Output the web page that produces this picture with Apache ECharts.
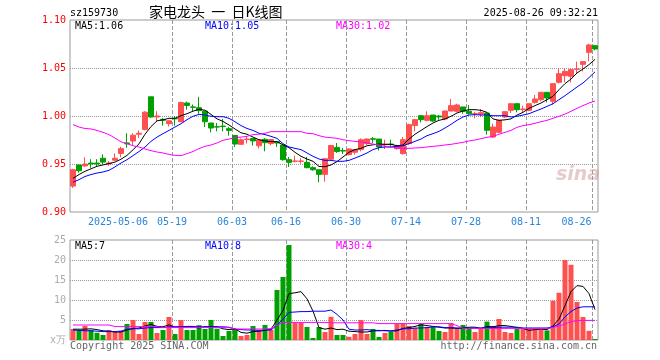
<!DOCTYPE html>
<html><head><meta charset="utf-8">
<script src="https://cdn.jsdelivr.net/npm/echarts@6/dist/echarts.min.js"></script>
<style>html,body{margin:0;padding:0;background:#fff}#c{width:660px;height:360px}</style>
</head><body><div id="c"></div>
<script>
var dates = ['2025-04-21','2025-04-22','2025-04-23','2025-04-24','2025-04-25','2025-04-28','2025-04-29','2025-04-30',
'2025-05-06','2025-05-07','2025-05-08','2025-05-09','2025-05-12','2025-05-13','2025-05-14','2025-05-15','2025-05-16',
'2025-05-19','2025-05-20','2025-05-21','2025-05-22','2025-05-23','2025-05-26','2025-05-27','2025-05-28','2025-05-29','2025-05-30',
'2025-06-03','2025-06-04','2025-06-05','2025-06-06','2025-06-09','2025-06-10','2025-06-11','2025-06-12','2025-06-13',
'2025-06-16','2025-06-17','2025-06-18','2025-06-19','2025-06-20','2025-06-23','2025-06-24','2025-06-25','2025-06-26','2025-06-27',
'2025-06-30','2025-07-01','2025-07-02','2025-07-03','2025-07-04','2025-07-07','2025-07-08','2025-07-09','2025-07-10','2025-07-11',
'2025-07-14','2025-07-15','2025-07-16','2025-07-17','2025-07-18','2025-07-21','2025-07-22','2025-07-23','2025-07-24','2025-07-25',
'2025-07-28','2025-07-29','2025-07-30','2025-07-31','2025-08-01','2025-08-04','2025-08-05','2025-08-06','2025-08-07','2025-08-08',
'2025-08-11','2025-08-12','2025-08-13','2025-08-14','2025-08-15','2025-08-18','2025-08-19','2025-08-20','2025-08-21','2025-08-22',
'2025-08-25','2025-08-26'];
var tickDates = ['2025-05-06','2025-05-19','2025-06-03','2025-06-16','2025-06-30','2025-07-14','2025-07-28','2025-08-11','2025-08-26'];
var priceTicks = [0.90, 0.95, 1.00, 1.05, 1.10];
var volTicks = [0, 5, 10, 15, 20, 25];

var openP = [0.927,0.949,0.948,0.951,0.951,0.956,0.950,0.954,0.961,0.972,0.974,0.981,0.986,1.020,0.999,0.9965,0.992,0.9975,0.994,1.0135,
1.0095,1.0087,1.005,0.9927,0.9888,0.9895,0.9868,0.9797,0.9705,0.9755,0.9766,0.969,0.9757,0.9713,0.9733,0.9698,0.9545,0.9528,0.9528,0.9517,
0.9462,0.944,0.9392,0.955,0.9673,0.964,0.9597,0.9622,0.965,0.9712,0.9763,0.976,0.970,0.9708,0.966,0.9608,0.9712,0.990,1.0003,0.9955,
1.001,1.000,0.9969,1.0052,1.0049,1.0094,1.0049,1.0021,1.002,1.0031,0.9781,0.983,0.999,1.0059,1.0128,1.0069,1.0059,1.0142,1.017,1.0247,
1.0153,1.0351,1.042,1.0413,1.0486,1.0538,1.0663,1.0733];
var closeP = [0.944,0.943,0.950,0.950,0.950,0.952,0.951,0.956,0.966,0.971,0.980,0.982,1.004,0.999,1.000,0.9955,0.995,0.997,1.014,1.011,
1.009,1.0056,0.994,0.9875,0.9885,0.989,0.985,0.9708,0.9752,0.976,0.974,0.9752,0.9722,0.9755,0.9719,0.9545,0.9517,0.9531,0.9531,0.9462,
0.944,0.9392,0.9555,0.9692,0.963,0.9635,0.9656,0.965,0.9753,0.976,0.9757,0.9677,0.9705,0.9702,0.969,0.9753,0.991,0.9962,0.9962,1.0003,
0.9948,0.999,1.0052,1.0108,1.0115,1.0049,1.0024,1.0024,1.0035,0.9851,0.9885,0.9955,1.0045,1.0128,1.0066,1.0073,1.0128,1.0177,1.0247,1.0188,
1.0337,1.0441,1.0465,1.0483,1.049,1.0566,1.074,1.0698];
var lowP = [0.925,0.941,0.947,0.946,0.947,0.950,0.948,0.953,0.957,0.967,0.969,0.977,0.985,0.998,0.994,0.990,0.989,0.990,0.994,1.0066,
1.005,1.0024,0.9885,0.983,0.984,0.984,0.9795,0.9678,0.9698,0.9712,0.9692,0.9662,0.9632,0.9695,0.9677,0.9535,0.9469,0.9517,0.9503,0.9455,
0.943,0.931,0.9316,0.9538,0.9615,0.9605,0.959,0.9597,0.9632,0.9698,0.9719,0.9642,0.9656,0.967,0.965,0.9597,0.970,0.984,0.9934,0.9944,
0.994,0.9962,0.9955,1.005,1.0038,1.0024,1.0014,0.9976,0.999,0.9806,0.9771,0.982,0.998,1.0031,1.0038,1.0031,1.0049,1.0128,1.0153,1.0142,
1.0118,1.0337,1.0351,1.0351,1.0448,1.0465,1.0569,1.0684];
var highP = [0.945,0.949,0.957,0.955,0.955,0.960,0.953,0.961,0.968,0.982,0.982,0.985,1.005,1.020,1.005,0.998,0.995,1.000,1.015,1.015,
1.012,1.020,1.005,0.9927,0.9927,0.997,0.9885,0.9797,0.9767,0.9785,0.9766,0.9755,0.977,0.9762,0.9736,0.9698,0.9573,0.9587,0.956,0.9573,
0.9476,0.944,0.9558,0.970,0.9719,0.9667,0.9663,0.9656,0.9767,0.9767,0.978,0.976,0.9753,0.9753,0.970,0.9781,0.992,0.9969,1.0003,1.0049,
1.001,1.001,1.0055,1.0177,1.0128,1.0094,1.0115,1.0045,1.0073,1.0031,0.992,0.996,1.005,1.013,1.0128,1.0108,1.013,1.0219,1.025,1.0247,
1.034,1.050,1.050,1.049,1.0566,1.057,1.0753,1.0735];
var ma5 = [0.935,0.939,0.9424,0.945,0.9476,0.949,0.9505,0.952,0.955,0.959,0.9648,0.971,0.981,0.989,0.995,0.996,0.9976,0.9976,1.0003,1.0024,
1.005,1.007,1.006,1.0016,0.997,0.9944,0.9906,0.9865,0.9825,0.981,0.978,0.9753,0.974,0.9733,0.9733,0.970,0.967,0.9622,0.958,0.9552,
0.9528,0.9474,0.9472,0.949,0.9525,0.9573,0.9622,0.965,0.9663,0.969,0.970,0.9708,0.9705,0.9705,0.969,0.9698,0.976,0.981,0.985,0.989,
0.9927,0.9955,0.9969,0.9997,1.0031,1.0052,1.0066,1.0066,1.0059,1.0038,0.997,0.9955,0.996,0.997,1.001,1.0038,1.008,1.0108,1.0135,1.017,
1.0205,1.0274,1.0337,1.0385,1.0448,1.049,1.0535,1.059];
var ma10 = [0.931,0.9337,0.937,0.939,0.9406,0.9417,0.9434,0.947,0.951,0.9545,0.9587,0.963,0.9677,0.9736,0.978,0.9816,0.985,0.9885,0.992,0.9962,
0.9997,1.0017,1.001,0.9997,0.9993,0.9993,0.9976,0.994,0.990,0.987,0.985,0.982,0.9806,0.9788,0.9767,0.9712,0.9677,0.9663,0.965,0.9615,
0.958,0.9552,0.9538,0.9538,0.9528,0.9528,0.9538,0.9562,0.9587,0.9615,0.965,0.967,0.9677,0.9677,0.9684,0.969,0.9712,0.9736,0.976,0.9795,
0.9816,0.984,0.9875,0.9913,0.9955,0.999,1.001,1.0014,1.001,1.001,1.0003,1.0003,1.0003,0.999,0.9997,1.001,1.0024,1.0049,1.0073,1.010,
1.0128,1.017,1.0212,1.0257,1.0302,1.0344,1.0400,1.046];
var ma30 = [0.991,0.9885,0.987,0.9865,0.985,0.983,0.9806,0.977,0.973,0.9712,0.969,0.9677,0.9656,0.9639,0.9625,0.9615,0.960,0.959,0.9587,0.9608,
0.963,0.966,0.9684,0.9698,0.9719,0.9747,0.976,0.9774,0.978,0.9788,0.9806,0.981,0.982,0.9837,0.9837,0.9837,0.9837,0.9837,0.9837,0.982,
0.9816,0.9795,0.978,0.9774,0.9767,0.9753,0.9743,0.9736,0.973,0.9719,0.9708,0.9698,0.9684,0.9677,0.9667,0.9663,0.9663,0.9667,0.967,0.9677,
0.9684,0.969,0.9698,0.9705,0.9715,0.9726,0.974,0.975,0.9764,0.9778,0.9788,0.981,0.983,0.985,0.9882,0.990,0.991,0.9924,0.994,0.9955,
0.9976,0.9997,1.002,1.0049,1.008,1.0108,1.0135,1.0156];
var volume = [2.75,2.5,3.5,2.5,1.8,1.25,2.5,2.1,2.3,4.0,5.0,1.5,4.5,4.5,1.75,2.5,5.75,1.5,5.0,2.5,
2.5,3.7,2.75,5.0,2.8,1.0,2.25,2.75,1.0,1.25,3.5,2.5,3.75,2.5,12.5,15.75,23.75,4.3,4.3,3.25,
0.5,3.25,2.0,5.8,1.25,1.25,0.8,1.5,5.0,1.5,2.75,0.75,1.75,2.0,4.0,4.25,3.5,3.0,4.0,3.25,
3.25,2.25,2.0,4.25,2.75,3.75,3.0,2.0,2.75,4.6,3.5,5.25,2.0,1.75,2.75,2.75,2.75,2.75,2.5,2.4,
9.8,11.8,20.0,18.8,9.5,5.75,2.3,0.25];
var vma5 = [2.7,2.7,2.7,2.8,2.6,2.3,2.2,2.0,2.0,2.5,2.9,3.0,3.5,3.9,3.4,3.3,3.8,3.2,3.3,3.4,
3.4,3.0,3.3,3.3,3.3,2.8,2.6,2.8,1.9,1.7,2.1,2.2,2.4,2.7,5.0,7.4,11.6,11.8,12.1,10.3,
7.2,3.1,2.7,3.0,2.6,2.7,2.2,2.1,2.0,2.0,2.3,2.3,2.4,2.2,2.3,2.9,3.1,3.4,3.8,3.6,
3.4,3.2,3.0,3.0,2.9,3.0,3.2,3.2,2.9,3.4,3.3,3.6,3.6,3.4,3.1,2.9,2.4,2.6,2.7,2.6,
3.5,5.2,8.6,12.1,13.6,13.4,11.6,7.6];
var vma10 = [2.5,2.4,2.3,2.3,2.2,2.1,2.1,2.1,2.2,2.7,2.8,2.8,3.0,3.1,3.1,3.1,3.3,3.3,3.3,3.3,
3.3,3.3,3.3,3.3,3.3,3.3,3.2,2.7,2.6,2.5,2.5,2.4,2.5,2.5,3.7,5.2,6.9,7.0,7.1,7.1,
7.2,7.2,7.2,7.5,6.4,5.0,2.7,2.5,2.5,2.6,2.4,2.4,2.3,2.3,2.5,2.8,2.8,3.0,3.0,3.1,
3.3,3.3,3.1,3.1,3.0,3.0,3.0,3.0,3.0,3.1,3.1,3.2,3.2,3.2,3.2,3.0,3.0,3.0,3.0,3.0,
3.3,4.0,5.8,7.1,8.0,8.3,8.3,8.3];
var vma30 = [3.75,3.75,3.75,3.75,3.75,3.75,3.75,3.35,3.35,3.35,3.35,3.35,3.35,3.35,3.35,3.1,3.1,3.1,3.1,3.1,
3.1,3.1,3.1,3.1,3.1,3.1,3.1,2.75,2.75,2.75,2.75,2.75,2.75,2.85,3.7,4.3,4.4,4.4,4.4,4.4,
4.4,4.4,4.4,4.3,4.3,4.3,4.3,4.3,4.3,4.3,4.3,4.1,4.1,4.1,4.1,4.1,4.1,4.1,4.1,4.1,
4.1,4.1,4.1,4.1,3.6,2.9,2.9,2.9,2.9,2.9,2.9,2.9,2.9,2.9,2.9,2.9,2.9,2.9,2.9,2.9,
3.1,3.5,4.0,4.6,4.8,4.9,4.9,4.9];

var UP = '#ff5050', DOWN = '#00a000';
var MONO = 'DejaVu Sans Mono';
var candles = dates.map(function (d, i) { return [openP[i], closeP[i], lowP[i], highP[i]]; });
var volBars = volume.map(function (v, i) {
  return { value: v, itemStyle: { color: closeP[i] >= openP[i] ? UP : DOWN } };
});
function last(a) { return a[a.length - 1]; }
var isTick = function (idx, val) { return tickDates.indexOf(dates[idx]) >= 0; };
var vSplit = { show: true, interval: isTick, showMinLine: false, showMaxLine: false,
  lineStyle: { color: '#999', type: 'dashed', dashOffset: 0, width: 1 } };
var hSplit = { show: true, showMinLine: false, showMaxLine: false,
  lineStyle: { color: '#999', type: 'dotted', width: 1 } };

var chart = echarts.init(document.getElementById('c'), null, { renderer: 'canvas' });
chart.setOption({
  animation: false,
  backgroundColor: '#fff',
  grid: [
    { left: 70, top: 20, width: 528, height: 192, show: true, borderColor: '#999', borderWidth: 1, z: -1 },
    { left: 70, top: 240, width: 528, height: 100, show: true, borderColor: '#999', borderWidth: 1, z: -1 }
  ],
  xAxis: [
    { type: 'category', gridIndex: 0, data: dates, boundaryGap: true, z: 1,
      axisLine: { show: false }, axisTick: { show: false },
      axisLabel: { show: true, interval: isTick, margin: 5, fontFamily: MONO, fontSize: 10, color: '#2b86db',
        formatter: function (v, i) {
          var t = (v === tickDates[0]) ? v : v.slice(5);
          return (v === last(tickDates)) ? '{e|' + t + '}' : '{n|' + t + '}';
        },
        rich: { n: { padding: [0, 6, 0, 0], fontFamily: MONO, fontSize: 10, color: '#2b86db' },
                e: { padding: [0, 37, 0, 0], fontFamily: MONO, fontSize: 10, color: '#2b86db' } } },
      splitLine: vSplit },
    { type: 'category', gridIndex: 1, data: dates, boundaryGap: true, z: 1,
      axisLine: { show: false }, axisTick: { show: false }, axisLabel: { show: false },
      splitLine: vSplit }
  ],
  yAxis: [
    { type: 'value', gridIndex: 0, min: priceTicks[0], max: last(priceTicks), interval: 0.05, z: 1,
      axisLine: { show: false }, axisTick: { show: false },
      axisLabel: { color: '#ff0000', fontFamily: MONO, fontSize: 10, margin: 4,
        formatter: function (v) { return v.toFixed(2); } },
      splitLine: hSplit },
    { type: 'value', gridIndex: 1, min: volTicks[0], max: last(volTicks), interval: 5, z: 1,
      axisLine: { show: false }, axisTick: { show: false },
      axisLabel: { color: '#aaa', fontFamily: MONO, fontSize: 10, margin: 4,
        formatter: function (v) { return v === 0 ? 'x万' : String(v); } },
      splitLine: hSplit }
  ],
  series: [
    { type: 'candlestick', xAxisIndex: 0, yAxisIndex: 0, data: candles, barWidth: 5, z: 2,
      itemStyle: { color: UP, color0: DOWN, borderColor: UP, borderColor0: DOWN, borderWidth: 1 } },
    { type: 'line', xAxisIndex: 0, yAxisIndex: 0, data: ma5, showSymbol: false, lineStyle: { color: '#000', width: 1 }, z: 3 },
    { type: 'line', xAxisIndex: 0, yAxisIndex: 0, data: ma10, showSymbol: false, lineStyle: { color: '#0000ff', width: 1 }, z: 3 },
    { type: 'line', xAxisIndex: 0, yAxisIndex: 0, data: ma30, showSymbol: false, lineStyle: { color: '#ff00ff', width: 1 }, z: 3 },
    { type: 'bar', xAxisIndex: 1, yAxisIndex: 1, data: volBars, barWidth: 5, z: 2 },
    { type: 'line', xAxisIndex: 1, yAxisIndex: 1, data: vma5, showSymbol: false, lineStyle: { color: '#000', width: 1 }, z: 3 },
    { type: 'line', xAxisIndex: 1, yAxisIndex: 1, data: vma10, showSymbol: false, lineStyle: { color: '#0000ff', width: 1 }, z: 3 },
    { type: 'line', xAxisIndex: 1, yAxisIndex: 1, data: vma30, showSymbol: false, lineStyle: { color: '#ff00ff', width: 1 }, z: 3 }
  ],
  graphic: [
    { type: 'text', left: 70, top: 8, style: { text: 'sz159730', font: '10px "DejaVu Sans Mono"', fill: '#000' } },
    { type: 'text', left: 149, top: 5, style: { text: '家电龙头  一  日K线图', font: '14px "Noto Sans CJK SC"', fill: '#000' } },
    { type: 'text', right: 62, top: 8, style: { text: '2025-08-26 09:32:21', font: '10px "DejaVu Sans Mono"', fill: '#000' } },
    { type: 'text', left: 75, top: 21, style: { text: 'MA5:' + last(ma5).toFixed(2), font: '10px "DejaVu Sans Mono"', fill: '#000' } },
    { type: 'text', left: 205, top: 21, style: { text: 'MA10:' + last(ma10).toFixed(2), font: '10px "DejaVu Sans Mono"', fill: '#0000ff' } },
    { type: 'text', left: 336, top: 21, style: { text: 'MA30:' + last(ma30).toFixed(2), font: '10px "DejaVu Sans Mono"', fill: '#ff00ff' } },
    { type: 'text', left: 75, top: 241, style: { text: 'MA5:' + Math.floor(last(vma5)), font: '10px "DejaVu Sans Mono"', fill: '#000' } },
    { type: 'text', left: 205, top: 241, style: { text: 'MA10:' + Math.floor(last(vma10)), font: '10px "DejaVu Sans Mono"', fill: '#0000ff' } },
    { type: 'text', left: 336, top: 241, style: { text: 'MA30:' + Math.floor(last(vma30)), font: '10px "DejaVu Sans Mono"', fill: '#ff00ff' } },
    { type: 'text', left: 70, top: 341, style: { text: 'Copyright 2025 SINA.COM', font: '10px "DejaVu Sans Mono"', fill: '#666' } },
    { type: 'text', right: 63, top: 341, style: { text: 'http://finance.sina.com.cn', font: '10px "DejaVu Sans Mono"', fill: '#666' } },
    { type: 'text', left: 556, top: 166, style: { text: 'sina', font: 'italic bold 19px "DejaVu Sans"', fill: 'rgba(200,140,140,0.45)' } }
  ]
});
</script></body></html>
